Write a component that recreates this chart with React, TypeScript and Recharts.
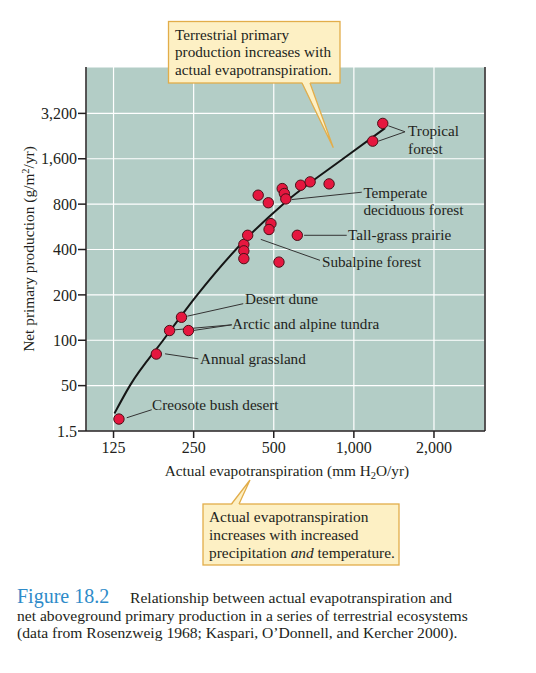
import { CartesianGrid, ReferenceDot, ReferenceLine, Scatter, ScatterChart, XAxis, YAxis } from "recharts";

// axis ticks
const xTicks = [125, 250, 500, 1000, 2000];
const xTickLabels = ["125", "250", "500", "1,000", "2,000"];
const yTicks = [25, 50, 100, 200, 400, 800, 1600, 3200];
const yTickLabels = ["1.5", "50", "100", "200", "400", "800", "1,600", "3,200"];

// ecosystems: actual evapotranspiration (mm/yr) vs net primary production (g/m2/yr)
const aet = [131, 181, 203, 239, 225, 386, 386, 386, 399, 437, 477, 538, 548, 555, 631, 685, 807, 1284, 1177, 488, 480, 613, 523];
const npp = [30, 81, 116, 116, 142, 432, 392, 348, 497, 917, 817, 1015, 941, 866, 1068, 1124, 1090, 2746, 2094, 594, 543, 497, 330];

// fitted trend line
const curveAet = [126, 144, 192, 258, 373, 542, 911, 1310];
const curveNpp = [32.7, 50, 100, 200, 427, 800, 1600, 2555];

// leader lines [x1, y1, x2, y2] in data units
const leaders = [
  [1348, 2647, 1557, 2416],
  [1236, 2094, 1557, 2416],
  [584, 858, 1071, 960],
  [650, 497, 940, 497],
  [447, 467, 746, 339],
  [236.7, 144.5, 384, 174.8],
  [212.9, 117.3, 347.7, 126.6],
  [249.4, 116.1, 347.7, 126.6],
  [195.2, 81.3, 260.4, 75.3],
  [140.1, 30.6, 174, 34.6],
];

const labels = [
  { x: 1599, y: 2261, lines: ["Tropical", "forest"] },
  { x: 1086, y: 884, lines: ["Temperate", "deciduous forest"] },
  { x: 951, y: 460, lines: ["Tall-grass prairie"] },
  { x: 759, y: 307, lines: ["Subalpine forest"] },
  { x: 390, y: 175, lines: ["Desert dune"] },
  { x: 348.5, y: 118.8, lines: ["Arctic and alpine tundra"] },
  { x: 264, y: 69.5, lines: ["Annual grassland"] },
  { x: 174.4, y: 34.2, lines: ["Creosote bush desert"] },
];

const points = aet.map((x, i) => ({ x, y: npp[i] }));
const curve = curveAet.map((x, i) => ({ x, y: curveNpp[i] }));

const serif = '"Liberation Serif", "Times New Roman", serif';
const ink = "#231f20";
const boxFill = "#fdf0c4";
const boxStroke = "#e2ad4a";

export default function App() {
  return (
    <div style={{ position: "absolute", left: 0, top: 0, width: 536, height: 673, background: "#fff", fontFamily: serif }}>
      <ScatterChart width={536} height={500} margin={{ top: 67, right: 51, left: 0, bottom: 29 }}>
        <CartesianGrid stroke="#ffffff" strokeWidth={1.2} fill="#b3cdc6" fillOpacity={1} />
        <XAxis
          type="number"
          dataKey="x"
          scale="log"
          domain={[98.5, 3110]}
          allowDataOverflow
          ticks={xTicks}
          tickFormatter={(v) => xTickLabels[xTicks.indexOf(v)]}
          height={40}
          tickSize={7}
          tickMargin={4}
          stroke={ink}
          strokeWidth={1.5}
          tick={{ fill: ink, fontSize: 16, fontFamily: serif }}
        />
        <YAxis
          type="number"
          dataKey="y"
          scale="log"
          domain={[25, 6500]}
          allowDataOverflow
          ticks={yTicks}
          tickFormatter={(v) => yTickLabels[yTicks.indexOf(v)]}
          width={86}
          tickSize={8}
          tickMargin={1}
          stroke={ink}
          strokeWidth={1.5}
          tick={{ fill: ink, fontSize: 16, fontFamily: serif }}
        />
        <ReferenceLine x={3110} stroke={ink} strokeWidth={1.5} ifOverflow="visible" />
        {leaders.map((s, i) => (
          <ReferenceLine
            key={"l" + i}
            segment={[{ x: s[0], y: s[1] }, { x: s[2], y: s[3] }]}
            stroke="#333"
            strokeWidth={1}
            ifOverflow="visible"
          />
        ))}
        {labels.map((l, i) => (
          <ReferenceDot
            key={"t" + i}
            x={l.x}
            y={l.y}
            r={0}
            ifOverflow="visible"
            shape={(p: any) => (
              <text x={p.cx} y={p.cy} fill={ink} fontSize={15.2} fontFamily={serif}>
                {l.lines.map((t, j) => (
                  <tspan key={j} x={p.cx} dy={j === 0 ? 0 : 17.5}>
                    {t}
                  </tspan>
                ))}
              </text>
            )}
          />
        ))}
        <Scatter
          data={curve}
          isAnimationActive={false}
          line={{ stroke: "#151515", strokeWidth: 2 }}
          lineType="joint"
          lineJointType="monotoneX"
          shape={() => <g />}
        />
        <Scatter
          data={points}
          isAnimationActive={false}
          shape={(p: any) => (
            <circle cx={p.cx} cy={p.cy} r={5.2} fill="#e5173f" stroke="#4a1018" strokeWidth={1} />
          )}
        />
      </ScatterChart>

      <svg width={536} height={673} style={{ position: "absolute", left: 0, top: 0, pointerEvents: "none" }}>
        {/* axis titles */}
        <text transform="rotate(-90)" x={-249} y={34} textAnchor="middle" fontSize={15.4} fill={ink} fontFamily={serif}>
          Net primary production (g/m<tspan dy={-5} fontSize={10.5}>2</tspan>
          <tspan dy={5}>/yr)</tspan>
        </text>
        <text x={287} y={476} textAnchor="middle" fontSize={15.3} fill={ink} fontFamily={serif}>
          Actual evapotranspiration (mm H<tspan dy={3} fontSize={10.5}>2</tspan>
          <tspan dy={-3}>O/yr)</tspan>
        </text>

        {/* top callout */}
        <rect x={168.5} y={21.5} width={171.5} height={61.5} fill={boxFill} stroke={boxStroke} strokeWidth={1.3} />
        <polygon points="302,82 310,82 333.3,147.7" fill={boxFill} />
        <polyline points="302,83 333.3,147.7 310,83" fill="none" stroke={boxStroke} strokeWidth={1.3} />
        <text x={175} fontSize={15.2} fill={ink} fontFamily={serif}>
          <tspan x={175} y={39.5}>Terrestrial primary</tspan>
          <tspan x={175} y={57.2}>production increases with</tspan>
          <tspan x={175} y={75}>actual evapotranspiration.</tspan>
        </text>

        {/* bottom callout */}
        <rect x={203} y={504} width={196} height={61} fill={boxFill} stroke={boxStroke} strokeWidth={1.3} />
        <polygon points="231.5,505 239,505 250,480" fill={boxFill} />
        <polyline points="231.5,504 250,480 239,504" fill="none" stroke={boxStroke} strokeWidth={1.3} />
        <text fontSize={15.4} fill={ink} fontFamily={serif}>
          <tspan x={209} y={522}>Actual evapotranspiration</tspan>
          <tspan x={209} y={540}>increases with increased</tspan>
          <tspan x={209} y={558}>
            precipitation <tspan fontStyle="italic">and</tspan> temperature.
          </tspan>
        </text>

        {/* caption */}
        <text x={17} y={603} fontSize={20} fill="#2e8bc9" fontFamily={serif}>
          Figure 18.2
        </text>
        <text fontSize={15.6} fill={ink} fontFamily={serif}>
          <tspan x={130} y={603}>Relationship between actual evapotranspiration and</tspan>
          <tspan x={17} y={620.5}>net aboveground primary production in a series of terrestrial ecosystems</tspan>
          <tspan x={17} y={638}>(data from Rosenzweig 1968; Kaspari, O’Donnell, and Kercher 2000).</tspan>
        </text>
      </svg>
    </div>
  );
}
